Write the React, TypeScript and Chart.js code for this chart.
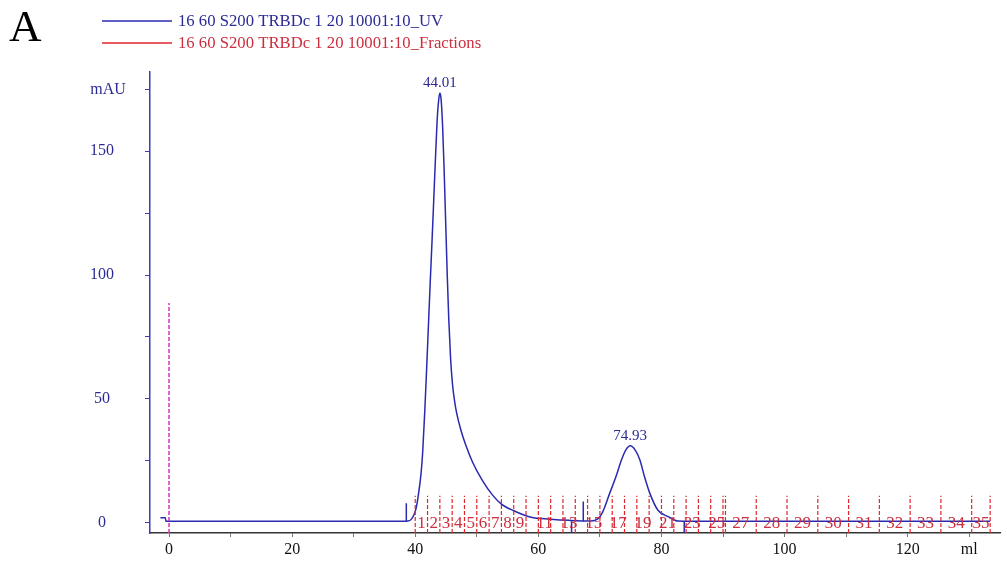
import React, { useEffect, useRef } from 'react';
import { Chart, registerables } from 'chart.js';

Chart.register(...registerables);

// ---- Data ----
const uvMl = [
  -1.4, -0.6, -0.5, 10, 20, 30, 38.0, 38.8, 39.35, 39.9, 40.2, 40.55, 40.95, 41.2, 41.55, 41.85, 42.15, 42.45,
  42.75, 43.0, 43.3, 43.55, 43.8, 44.01, 44.2, 44.45, 44.7, 44.95, 45.2, 45.45, 45.75, 46.05, 46.4, 46.75,
  47.4, 48.25, 49.3, 50.8, 52.6, 54.0, 56.0, 58.8, 62, 65, 68.5, 69.7, 70.4, 71.6, 72.6, 73.5, 74.2, 74.93,
  75.74, 76.5, 77.25, 78.1, 79.4, 81.1, 82.7, 85, 90, 100, 110, 120, 133.4,
];
const uvMau = [
  2.0, 2.0, 0.5, 0.5, 0.5, 0.5, 0.5, 0.6, 1.3, 3.8, 6.5, 11.9, 20, 28, 45, 62, 80, 98,
  115, 130, 148, 162, 170.5, 173.5, 171, 160, 142, 121, 100, 82, 66, 56, 49, 44,
  37.5, 31, 24.5, 17.5, 11, 7.5, 4.8, 2.2, 1.4, 0.9, 0.6, 1.6, 4.0, 11.9, 18.5, 25.3, 29.3, 31.0,
  29.3, 25.3, 18.5, 11.9, 5.1, 2.4, 0.6, 0.5, 0.5, 0.5, 0.5, 0.5, 0.5,
];

const peakMl = [44.01, 74.93];
const peakMau = [173.5, 31.0];

// fraction boundaries (ml) and fraction numbers
const fractionBounds = [
  40, 42, 44, 46, 48, 50, 52, 54, 56, 58, 60, 62, 64, 66, 68, 70, 72, 74, 76, 78, 80, 82, 84, 86, 88, 90,
  90.4, 95.4, 100.4, 105.4, 110.4, 115.4, 120.4, 125.4, 130.4, 133.4,
];
const fractionShown = [
  '1', '2', '3', '4', '5', '6', '7', '8', '9', '', '11', '', '13', '', '15', '', '17', '', '19', '', '21', '', '23', '', '25',
  '', '27', '28', '29', '30', '31', '32', '33', '34', '35',
];
const fractionMarkTop = 10.8;

// logbook marks (blue vertical lines)
const eventUpMl = [38.55, 67.3];
const eventUpTop = [7.8, 8.5];
const eventDownMl = [65.4, 83.7];

const injectionMl = [0];
const injectionTop = [88.7];

const yTickLabels = [0, 50, 100, 150];
const xTickLabels = [0, 20, 40, 60, 80, 100, 120];

const legendNames = ['16 60 S200 TRBDc 1 20 10001:10_UV', '16 60 S200 TRBDc 1 20 10001:10_Fractions'];

const X_MIN = -3.09;
const X_MAX = 135;
const Y_MIN = -4.2;
const Y_MAX = 182;

const SERIF = "'Liberation Serif', 'Times New Roman', serif";
const BLUE_LINE = '#2a2ab0';
const BLUE_TEXT = '#2b2b96';
const RED_LINE = '#e0262c';
const RED_TEXT = '#cc2f3f';
const MAGENTA = '#dd2fc4';

const overlayPlugin = {
  id: 'overlay',
  afterDatasetsDraw(chart: any) {
    const ctx = chart.ctx as CanvasRenderingContext2D;
    const xs = chart.scales.x;
    const ys = chart.scales.y;
    ctx.save();
    // fraction labels
    ctx.font = `17px ${SERIF}`;
    ctx.fillStyle = RED_TEXT;
    ctx.textAlign = 'center';
    ctx.textBaseline = 'middle';
    for (let i = 0; i < fractionShown.length; i++) {
      if (!fractionShown[i]) continue;
      const c = (fractionBounds[i] + fractionBounds[i + 1]) / 2;
      ctx.fillText(fractionShown[i], xs.getPixelForValue(c), ys.getPixelForValue(0) + 1);
    }
    // peak labels
    ctx.font = `15px ${SERIF}`;
    ctx.fillStyle = BLUE_TEXT;
    for (let i = 0; i < peakMl.length; i++) {
      ctx.fillText(peakMl[i].toFixed(2), xs.getPixelForValue(peakMl[i]), ys.getPixelForValue(peakMau[i]) - 10);
    }
    // axis unit
    ctx.font = `16px ${SERIF}`;
    ctx.fillText('mAU', 108, ys.getPixelForValue(175));
    ctx.restore();
  },
  afterDraw(chart: any) {
    const ctx = chart.ctx as CanvasRenderingContext2D;
    ctx.save();
    ctx.fillStyle = '#000';
    ctx.font = `45px ${SERIF}`;
    ctx.textAlign = 'left';
    ctx.textBaseline = 'alphabetic';
    ctx.fillText('A', 9, 41);
    const colors = [BLUE_LINE, RED_LINE];
    const tcolors = [BLUE_TEXT, RED_TEXT];
    const ys = [21, 43];
    ctx.font = `16.7px ${SERIF}`;
    ctx.textBaseline = 'middle';
    for (let i = 0; i < legendNames.length; i++) {
      ctx.strokeStyle = colors[i];
      ctx.lineWidth = 1.3;
      ctx.beginPath();
      ctx.moveTo(102, ys[i]);
      ctx.lineTo(172, ys[i]);
      ctx.stroke();
      ctx.fillStyle = tcolors[i];
      ctx.fillText(legendNames[i], 178, ys[i] + 1);
    }
    ctx.restore();
  },
};

function segs(xsArr: number[], bottoms: number[], tops: number[]) {
  const out: any[] = [];
  xsArr.forEach((x, i) => {
    out.push({ x, y: bottoms[i] });
    out.push({ x, y: tops[i] });
    out.push({ x, y: null });
  });
  return out;
}

export default function App() {
  const ref = useRef<HTMLCanvasElement | null>(null);
  useEffect(() => {
    if (!ref.current) return;
    const uv = uvMl.map((x, i) => ({ x, y: uvMau[i] }));
    const frac = segs(
      fractionBounds,
      fractionBounds.map(() => Y_MIN),
      fractionBounds.map(() => fractionMarkTop)
    );
    const evUp = segs(eventUpMl, eventUpMl.map(() => 0.5), eventUpTop);
    const evDown = segs(eventDownMl, eventDownMl.map(() => 0.5), eventDownMl.map(() => Y_MIN));
    const inj = segs(injectionMl, injectionMl.map(() => Y_MIN), injectionTop);

    const chart = new Chart(ref.current, {
      type: 'line',
      data: {
        datasets: [
          {
            label: legendNames[1],
            data: frac,
            borderColor: RED_LINE,
            borderWidth: 1.2,
            borderDash: [4, 2],
            pointRadius: 0,
            spanGaps: false,
            tension: 0,
          },
          {
            label: 'injection',
            data: inj,
            borderColor: MAGENTA,
            borderWidth: 1.5,
            borderDash: [4, 2],
            pointRadius: 0,
            spanGaps: false,
          },
          {
            label: 'events',
            data: [...evUp, ...evDown],
            borderColor: BLUE_LINE,
            borderWidth: 1.5,
            pointRadius: 0,
            spanGaps: false,
          },
          {
            label: legendNames[0],
            data: uv,
            borderColor: BLUE_LINE,
            borderWidth: 1.5,
            pointRadius: 0,
            cubicInterpolationMode: 'monotone',
            fill: false,
          },
        ],
      },
      options: {
        responsive: false,
        animation: false,
        events: [],
        layout: { padding: { top: 72, right: 7, left: 0, bottom: 0 } },
        plugins: { legend: { display: false }, tooltip: { enabled: false } },
        scales: {
          x: {
            type: 'linear',
            min: X_MIN,
            max: X_MAX,
            afterFit: (s: any) => {
              s.height = 28;
              s.paddingLeft = 0;
              s.paddingRight = 0;
            },
            border: { color: '#333', width: 1.5 },
            grid: { drawOnChartArea: false, drawTicks: true, tickLength: 4, color: '#777' },
            ticks: {
              stepSize: 10,
              includeBounds: false,
              autoSkip: false,
              maxRotation: 0,
              padding: 3,
              color: '#111',
              font: { family: SERIF, size: 16 },
              callback: (v: any) => {
                const n = Math.round(Number(v));
                if (n === 130) return 'ml';
                return xTickLabels.includes(n) ? String(n) : '';
              },
            },
          },
          y: {
            type: 'linear',
            min: Y_MIN,
            max: Y_MAX,
            afterFit: (s: any) => {
              s.width = 150;
              s.paddingTop = 0;
              s.paddingBottom = 0;
            },
            border: { color: '#3c3cb4', width: 1.5 },
            grid: { drawOnChartArea: false, drawTicks: true, tickLength: 5, color: '#3c3cb4' },
            ticks: {
              stepSize: 25,
              includeBounds: false,
              autoSkip: false,
              crossAlign: 'center',
              padding: 31,
              color: BLUE_TEXT,
              font: { family: SERIF, size: 16 },
              callback: (v: any) => {
                const n = Math.round(Number(v));
                return yTickLabels.includes(n) ? String(n) : '';
              },
            },
          },
        },
      },
      plugins: [overlayPlugin],
    } as any);
    return () => chart.destroy();
  }, []);

  return (
    <div style={{ position: 'absolute', left: 0, top: 0, width: 1007, height: 561, background: '#fff' }}>
      <canvas ref={ref} width={1007} height={561} style={{ display: 'block' }} />
    </div>
  );
}
